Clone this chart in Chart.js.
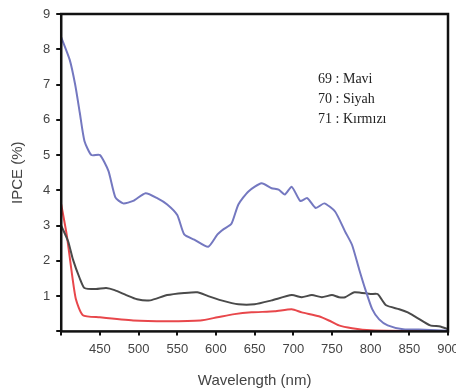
<!DOCTYPE html>
<html>
  <head>
    <title>IPCE</title>
    <script src="https://cdn.jsdelivr.net/npm/chart.js@4.4.1/dist/chart.umd.min.js"></script>
    <style>
      body { margin: 0; background: #fff; }
    </style>
  </head>
  <body>
    <canvas id="canvas" width="456" height="392"></canvas>
    <script>
      // wavelength (nm) / IPCE (%)
      const maviX = [400, 411, 418, 424, 430, 439, 450, 461, 470, 480, 493, 509, 524, 537, 550, 559, 572, 590, 602, 610, 620, 629, 642, 659, 672, 681, 689, 698, 709, 718, 729, 740, 754, 767, 776, 785, 793, 802, 811, 822, 842, 870, 900];
      const maviY = [8.34, 7.7, 7.0, 6.2, 5.4, 5.0, 5.0, 4.55, 3.8, 3.63, 3.7, 3.92, 3.78, 3.6, 3.3, 2.75, 2.6, 2.4, 2.75, 2.9, 3.05, 3.6, 3.97, 4.2, 4.06, 4.02, 3.88, 4.1, 3.7, 3.78, 3.5, 3.63, 3.4, 2.83, 2.45, 1.77, 1.2, 0.63, 0.34, 0.17, 0.06, 0.05, 0.02];

      const siyahX = [400, 409, 415, 424, 430, 445, 458, 469, 484, 498, 515, 537, 559, 576, 590, 607, 629, 650, 672, 698, 711, 724, 737, 750, 759, 767, 779, 800, 809, 820, 837, 848, 859, 877, 890, 900];
      const siyahY = [3.0, 2.55, 2.05, 1.5, 1.23, 1.2, 1.23, 1.17, 1.03, 0.91, 0.88, 1.03, 1.09, 1.11, 1.0, 0.88, 0.77, 0.77, 0.88, 1.03, 0.97, 1.03, 0.97, 1.03, 0.97, 0.97, 1.11, 1.06, 1.06, 0.74, 0.63, 0.54, 0.4, 0.17, 0.14, 0.06];

      const kirmiziX = [400, 407, 413, 419, 428, 450, 493, 537, 580, 602, 624, 646, 676, 698, 711, 733, 746, 759, 776, 800, 850, 900];
      const kirmiziY = [3.6, 2.75, 1.77, 0.91, 0.46, 0.4, 0.31, 0.29, 0.31, 0.4, 0.49, 0.54, 0.57, 0.63, 0.54, 0.43, 0.31, 0.17, 0.09, 0.03, 0.01, 0.0];

      const legendLines = ['69 : Mavi', '70 : Siyah', '71 : Kırmızı'];

      const toPoints = (xs, ys) => xs.map((x, i) => ({ x: x, y: ys[i] }));

      // frame around the plot area + text legend
      const framePlugin = {
        id: 'frame',
        afterDatasetsDraw(chart) {
          const { ctx, chartArea, scales } = chart;
          ctx.save();
          ctx.strokeStyle = '#111';
          ctx.lineWidth = 2.5;
          ctx.strokeRect(chartArea.left, chartArea.top, chartArea.right - chartArea.left, chartArea.bottom - chartArea.top);
          ctx.fillStyle = '#222';
          ctx.font = '14px "Liberation Serif"';
          ctx.textBaseline = 'middle';
          const lx = scales.x.getPixelForValue(732);
          legendLines.forEach((t, i) => {
            ctx.fillText(t, lx, scales.y.getPixelForValue(7.14 - i * 0.56));
          });
          ctx.restore();
        },
      };

      const ctx = document.getElementById('canvas').getContext('2d');
      new Chart(ctx, {
        type: 'line',
        data: {
          datasets: [
            { label: '69', data: toPoints(maviX, maviY), borderColor: '#7478c0', borderWidth: 2, pointRadius: 0, tension: 0.2 },
            { label: '70', data: toPoints(siyahX, siyahY), borderColor: '#4a4a4a', borderWidth: 2, pointRadius: 0, tension: 0.2 },
            { label: '71', data: toPoints(kirmiziX, kirmiziY), borderColor: '#e8474b', borderWidth: 2, pointRadius: 0, tension: 0.2 },
          ],
        },
        options: {
          responsive: false,
          animation: false,
          layout: { padding: { top: 14, right: 8, left: 5, bottom: 0 } },
          plugins: { legend: { display: false }, tooltip: { enabled: false } },
          scales: {
            x: {
              type: 'linear',
              min: 400,
              max: 900,
              // let the last label run off the edge like the original
              afterFit: (scale) => { scale.paddingRight = 0; },
              grid: { display: true, drawOnChartArea: false, tickLength: 4, color: '#111', lineWidth: 2 },
              border: { display: false },
              ticks: {
                stepSize: 50,
                padding: 6,
                color: '#444',
                font: { family: 'Liberation Sans', size: 13 },
                maxRotation: 0,
                callback: (v) => (v === 400 ? '' : v),
              },
              title: { display: true, text: 'Wavelength (nm)', color: '#444', font: { family: 'Liberation Sans', size: 15 }, padding: { top: 9, bottom: 2 } },
            },
            y: {
              min: 0,
              max: 9,
              grid: { display: true, drawOnChartArea: false, tickLength: 5, color: '#111', lineWidth: 2 },
              border: { display: false },
              ticks: {
                stepSize: 1,
                padding: 6,
                color: '#444',
                font: { family: 'Liberation Sans', size: 13 },
                callback: (v) => (v === 0 ? '' : v),
              },
              title: { display: true, text: 'IPCE (%)', color: '#444', font: { family: 'Liberation Sans', size: 15 }, padding: { top: 4, bottom: 10 } },
            },
          },
        },
        plugins: [framePlugin],
      });
    </script>
  </body>
</html>
